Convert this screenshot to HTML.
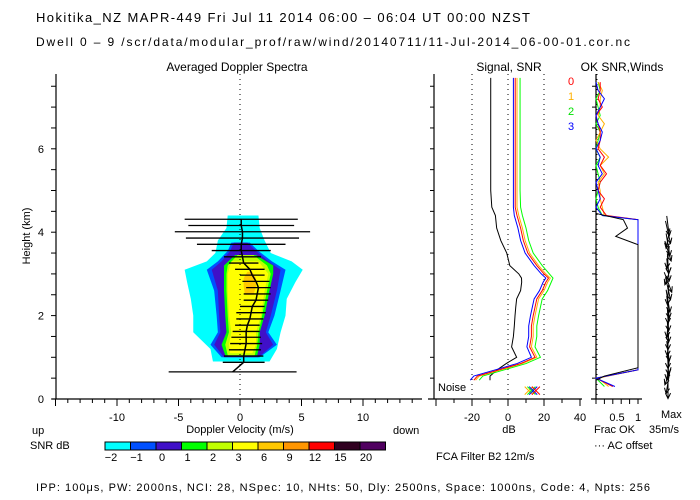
<!DOCTYPE html>
<html><head><meta charset="utf-8"><style>
body{margin:0;background:#fff}
svg{display:block;font-family:"Liberation Sans",sans-serif;font-size:11px}
</style></head><body>
<svg id="c" width="700" height="500" viewBox="0 0 700 500">
<text x="36" y="22" font-size="13" textLength="494">Hokitika_NZ  MAPR-449  Fri Jul 11 2014 06:00 – 06:04 UT 00:00 NZST</text>
<text x="36" y="46" font-size="12" textLength="594">Dwell  0 –  9   /scr/data/modular_prof/raw/wind/20140711/11-Jul-2014_06-00-01.cor.nc</text>
<text x="237" y="71" font-size="12" text-anchor="middle">Averaged Doppler Spectra</text>
<text x="509" y="71" font-size="12" text-anchor="middle">Signal, SNR</text>
<text x="622" y="71" font-size="12" text-anchor="middle">OK SNR,Winds</text>
<text x="30" y="236" font-size="11" transform="rotate(-90 30 236)" text-anchor="middle">Height (km)</text>
<text x="240" y="433" text-anchor="middle">Doppler Velocity (m/s)</text>
<text x="32" y="434">up</text>
<text x="393" y="434">down</text>
<text x="30" y="449">SNR dB</text>
<text x="509" y="433" text-anchor="middle">dB</text>
<text x="594" y="433">Frac OK</text>
<text x="594" y="449">··· AC offset</text>
<text x="661" y="418">Max</text>
<text x="649" y="433">35m/s</text>
<text x="438" y="391">Noise</text>
<text x="436" y="460">FCA Filter B2 12m/s</text>
<text x="36" y="491" textLength="614">IPP: 100μs,  PW: 2000ns,  NCI:  28,  NSpec: 10, NHts: 50,  Dly: 2500ns,  Space: 1000ns,  Code: 4,  Npts: 256</text>
<g id="g"></g>
</svg>
<script>
// ---- data ----
const levelLabels=["-2","-1","0","1","2","3","6","9","12","15","20"];
const levelColors=["#00ffff","#0050ff","#4010c8","#00ff00","#c0ff00","#ffff00","#ffc800","#ff9600","#ff0000","#300020","#500060"];
const contourH=[0.9,1.2,1.6,2.0,2.4,2.8,3.1,3.3,3.5,3.8,4.1,4.4];
const cyanL=[-2.2,-2.4,-3.8,-3.8,-4.0,-4.3,-4.5,-2.7,-2.0,-1.8,-1.1,-1.0];
const cyanR=[2.4,3.0,3.3,3.7,3.8,4.5,5.1,4.2,2.5,2.0,1.6,1.5];
const blueH=[1.0,1.3,1.6,2.0,2.6,3.1,3.3,3.55,3.75];
const blueL=[-1.5,-2.4,-1.8,-1.9,-2.1,-2.7,-1.8,-1.0,-0.7];
const blueR=[1.6,3.0,2.3,2.8,3.3,3.7,2.6,1.5,0.8];
const indL=[-1.3,-2.1,-1.6,-1.7,-1.8,-2.3,-1.5,-0.8,-0.5];
const indR=[1.5,2.7,2.1,2.5,3.0,3.3,2.3,1.3,0.6];
const greenH=[1.05,1.3,1.6,2.0,2.6,3.0,3.2,3.45];
const greenL=[-1.2,-1.5,-1.1,-1.2,-1.3,-1.3,-1.3,-0.4];
const greenR=[1.4,1.6,1.6,2.0,2.4,2.7,2.7,1.3];
const ygL=[-1.0,-1.2,-0.9,-1.0,-1.1,-1.1,-1.0,-0.2];
const ygR=[1.2,1.4,1.5,1.8,2.2,2.5,2.2,1.1];
const yelH=[1.1,1.3,1.6,2.0,2.6,3.0,3.3];
const yelL=[-0.8,-0.9,-0.7,-0.9,-1.0,-1.0,-0.7];
const yelR=[1.0,1.3,1.3,1.7,2.0,2.3,1.5];
const orH=[2.5,2.7,2.9,3.05];
const orL=[0.4,0.3,0.3,0.6];
const orR=[1.1,1.3,1.3,1.0];
const barH=[4.31,4.16,4.01,3.86,3.71,3.56,3.41,3.26,3.11,2.97,2.82,2.67,2.52,2.37,2.22,2.07,1.92,1.77,1.62,1.48,1.33,1.18,1.03,0.88,0.65];
const barC=[0.1,0.1,0.2,0.2,0.1,0.1,0.2,0.3,0.8,1.0,1.3,1.5,1.4,1.3,1.0,0.9,0.8,0.6,0.5,0.5,0.5,0.4,0.3,0.3,-0.6];
const barW=[4.6,4.3,5.5,4.6,3.6,2.4,1.5,1.2,1.2,1.0,1.1,1.0,1.1,1.0,1.0,1.2,1.1,1.0,1.1,1.2,1.3,1.3,1.6,1.7,5.2];
const sigH=[0.45,0.55,0.7,0.85,1.0,1.25,1.5,1.75,2.0,2.2,2.4,2.6,2.8,2.9,3.0,3.2,3.5,3.8,4.1,4.4,4.6,5.0,5.5,6.0,6.5,7.0,7.7];
const snrRed=[-19,-17,-5,7,15,12,13,13,14,15,16,19,21,22.5,20,16,11,8.5,7,5,4,4,4,4,4,4,4];
const snrBlue=[-21,-19,-7,5,13,10.5,11.5,11.5,12.5,13.5,14.5,17.5,19.5,21,18.5,14.5,9.5,7,5.5,3.5,3,3,3,3,3,3,3];
const snrOrange=[-18,-16,-4,8,16,13,14,14,15,16,17,20,22,23.5,21,17,12,9.5,8,6,5,5,5,5,5,5,5];
const snrGreen=[-16,-14,-2,10,18,15,16,16,17,18,19,22,24,25,23,19,14,11.5,10,8,7,6.7,6.7,6.7,6.7,6.7,6.7];
const signal=[-10,-10,-6,-1,4.8,2,3,3.5,3.9,4.3,4.8,7,7.6,7.5,6,1,-0.7,-4,-6.3,-7,-9,-9.6,-9.6,-9.6,-9.6,-9.6,-9.6];
const noiseDb=[11.5,13,14,15.5];
const fracH=[0.3,0.5,0.7,0.75,4.3,4.4,4.6,4.8,5.0,5.2,5.4,5.6,5.8,6.0,6.2,6.4,6.6,6.8,7.0,7.2,7.4,7.6];
const fracRed=[0.4,0.0,1.0,1.0,1.0,0.25,0.1,0.2,0.05,0.1,0.25,0.1,0.2,0.05,0.1,0.1,0.05,0.0,0.15,0.05,0.1,0.1];
const fracOrange=[0.3,0.05,1.0,1.0,1.0,0.2,0.15,0.1,0.1,0.05,0.2,0.1,0.3,0.1,0.0,0.1,0.2,0.05,0.1,0.1,0.15,0.05];
const fracGreen=[0.2,0.0,1.0,1.0,1.0,0.15,0.05,0.0,0.05,0.1,0.05,0.0,0.1,0.0,0.05,0.1,0.0,0.1,0.05,0.0,0.1,0.05];
const fracBlue=[0.45,0.0,1.0,1.0,1.0,0.15,0.0,0.1,0.05,0.0,0.15,0.05,0.1,0.0,0.1,0.15,0.05,0.0,0.1,0.2,0.05,0.0];
const blkH=[0.45,0.55,0.75,1.0,3.5,3.7,3.9,4.1,4.3,4.45];
const fracBlack=[0,0.2,1.0,1.0,1.0,1.0,0.47,0.75,0.65,0.0];
const windH=[0.25,0.4,0.55,0.7,0.85,1.0,1.15,1.3,1.45,1.6,1.75,1.9,2.05,2.2,2.35,2.5,2.65,2.8,2.95,3.1,3.25,3.4,3.55,3.7,3.85,4.0,4.15];
const windU=[0.0,-0.15,-0.25,-0.1,0.05,0.0,0.1,-0.05,0.0,0.05,-0.1,0.05,0.0,0.1,0.15,-0.05,0.2,0.3,-0.25,0.1,0.05,-0.1,0.25,0.15,-0.15,0.2,0.1];
const windV=[-0.8,-0.9,-0.7,-0.8,-0.9,-0.9,-0.8,-0.9,-0.9,-0.8,-0.9,-0.9,-0.8,-0.9,-0.9,-0.8,-0.9,-0.8,-0.7,-0.9,-0.8,-0.9,-0.8,-0.9,-0.8,-0.9,-0.8];
// ---- scales ----
const Y=h=>399-h*41.7, XV=v=>240+v*12.3, XD=d=>508+d*1.8, XF=f=>596+f*42;
const g=document.getElementById('g'), NS="http://www.w3.org/2000/svg";
function mk(t,a){const e=document.createElementNS(NS,t);for(const k in a)e.setAttribute(k,a[k]);g.appendChild(e);return e;}
function blob(hs,L,R,col,name){
  const pts=hs.map((h,i)=>XV(L[i])+","+Y(h)).concat(hs.map((h,i)=>XV(R[i])+","+Y(h)).reverse());
  const e=mk('polygon',{points:pts.join(' '),fill:col});
  
  
}
blob(contourH,cyanL,cyanR,levelColors[0],'contour-snr-m2');
blob(blueH,blueL,blueR,levelColors[1],'contour-snr-m1');
blob(blueH,indL,indR,levelColors[2],'contour-snr-0');
blob(greenH,greenL,greenR,levelColors[3],'contour-snr-1');
blob(greenH,ygL,ygR,levelColors[4],'contour-snr-2');
blob(yelH,yelL,yelR,levelColors[5],'contour-snr-3');
blob(orH,orL,orR,levelColors[6],'contour-snr-6');
let e=mk('line',{x1:XV(0),x2:XV(0),y1:74,y2:399,stroke:'#000','stroke-dasharray':'1,4'});


barH.forEach((h,i)=>{
  const b=mk('line',{x1:XV(barC[i]-barW[i]),x2:XV(barC[i]+barW[i]),y1:Y(h),y2:Y(h),stroke:'#000','stroke-width':1.3});
  
  
});
e=mk('polyline',{points:barH.map((h,i)=>XV(barC[i])+","+Y(h)).join(' '),fill:'none',stroke:'#000','stroke-width':1.5});


function axis(x1,y1,x2,y2,n){const a=mk('line',{x1,y1,x2,y2,stroke:'#000','stroke-width':1.2});}
axis(56,74,56,399,'y-axis');axis(52,399,422,399,'x-axis');
axis(434,74,434,399,'signal-y-axis');axis(428,399,582,399,'signal-x-axis');
axis(596,74,596,399,'frac-y-axis');axis(591,399,642,399,'frac-x-axis');
for(let h=0;h<=7.5;h+=0.5){mk('line',{x1:51,x2:56,y1:Y(h),y2:Y(h),stroke:'#000'});mk('line',{x1:430,x2:434,y1:Y(h),y2:Y(h),stroke:'#000'});mk('line',{x1:592,x2:596,y1:Y(h),y2:Y(h),stroke:'#000'});}
[0,2,4,6].forEach(h=>{const t=mk('text',{x:44,y:Y(h)+4,'text-anchor':'end'});t.textContent=h;});
for(let v=-15;v<=14;v++){mk('line',{x1:XV(v),x2:XV(v),y1:399,y2:v%5==0?406:403,stroke:'#000'});}
[-10,-5,0,5,10].forEach(v=>{const t=mk('text',{x:XV(v),y:421,'text-anchor':'middle'});t.textContent=v;});
for(let d=-40;d<=40;d+=10){mk('line',{x1:XD(d),x2:XD(d),y1:399,y2:d%20==0?406:403,stroke:'#000'});}
[-20,0,20,40].forEach(d=>{const t=mk('text',{x:XD(d),y:421,'text-anchor':'middle'});t.textContent=d;});
[-20,0,20].forEach(d=>mk('line',{x1:XD(d),x2:XD(d),y1:74,y2:399,stroke:'#000','stroke-dasharray':'1,4'}));
for(let f=0;f<=1.01;f+=0.2){mk('line',{x1:XF(f),x2:XF(f),y1:399,y2:404,stroke:'#000'});}
[["0.5",0.5],["1",1]].forEach(([s,f])=>{const t=mk('text',{x:XF(f),y:421,'text-anchor':'middle'});t.textContent=s;});
mk('line',{x1:597,x2:597,y1:74,y2:399,stroke:'#000','stroke-dasharray':'1,4'});
function line(hs,vals,sx,col,name){const p=mk('polyline',{points:hs.map((h,i)=>sx(vals[i])+","+Y(h)).join(' '),fill:'none',stroke:col,'stroke-width':1});}
line(sigH,signal,XD,'#000','signal-line');
line(sigH,snrGreen,XD,'#00ff00','snr-beam-2');
line(sigH,snrOrange,XD,'#ffb000','snr-beam-1');
line(sigH,snrRed,XD,'#ff0000','snr-beam-0');
line(sigH,snrBlue,XD,'#0000ff','snr-beam-3');
const nc=['#ff0000','#ffb000','#00ff00','#0000ff'];
noiseDb.forEach((d,i)=>{const x=XD(d),y=Y(0.2);const p=mk('path',{d:`M${x-4},${y-4}L${x+4},${y+4}M${x-4},${y+4}L${x+4},${y-4}`,stroke:nc[(i+1)%4],'stroke-width':1});});
line(fracH,fracGreen,XF,'#00ff00','frac-beam-2');
line(fracH,fracOrange,XF,'#ffb000','frac-beam-1');
line(fracH,fracRed,XF,'#ff0000','frac-beam-0');
line(fracH,fracBlue,XF,'#0000ff','frac-beam-3');
line(blkH,fracBlack,XF,'#000','frac-winds');
[["0",'#ff0000'],["1",'#ffb000'],["2",'#00e000'],["3",'#0000ff']].forEach(([s,c],i)=>{const t=mk('text',{x:571,y:85+i*15,fill:c,'text-anchor':'middle'});t.textContent=s;});
windH.forEach((h,i)=>{const x0=668,y0=Y(h),dx=windU[i]*25,dy=-windV[i]*25;
  const x1=x0-dx/2,y1=y0-dy/2,x2=x0+dx/2,y2=y0+dy/2,ang=Math.atan2(dy,dx);
  const a1=ang+2.7,a2=ang-2.7;
  const p=mk('path',{d:`M${x1},${y1}L${x2},${y2}M${x2+6*Math.cos(a1)},${y2+6*Math.sin(a1)}L${x2},${y2}L${x2+6*Math.cos(a2)},${y2+6*Math.sin(a2)}`,stroke:'#000',fill:'none','stroke-width':1});
  });
levelLabels.forEach((s,i)=>{const x=105+i*25.5;
  const r=mk('rect',{x,y:442,width:25.5,height:8,fill:levelColors[i],stroke:'#000','stroke-width':1});
  
  const t=mk('text',{x:x+6,y:461,'text-anchor':'middle'});t.textContent=s.replace('-','−');
  });
</script>
</body></html>
